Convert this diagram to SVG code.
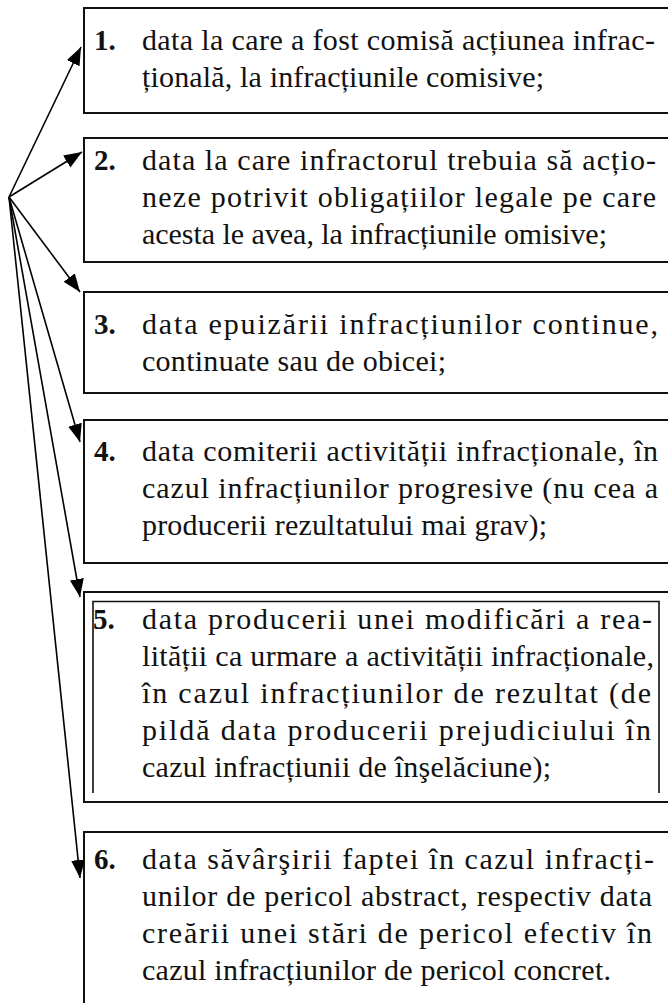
<svg xmlns="http://www.w3.org/2000/svg" width="668" height="1003" viewBox="0 0 668 1003">
<defs>
<style>
.box{fill:#fff;stroke:#111;stroke-width:2}
.inner{fill:none;stroke:#111;stroke-width:1.6}
.t{font-family:"Liberation Serif","DejaVu Serif",serif;font-size:30px;fill:#111}
.n{font-family:"Liberation Serif","DejaVu Serif",serif;font-size:29px;font-weight:bold;fill:#111}
.c{fill:none;stroke:#000;stroke-width:1.6}
</style>
<marker id="ah" markerUnits="userSpaceOnUse" markerWidth="20" markerHeight="16" refX="18" refY="7" orient="auto">
<path d="M0,0 L18,7 L0,14 z" fill="#000"/>
</marker>
</defs>
<rect width="668" height="1003" fill="#fff"/>

<g id="node1">
<rect class="box" x="84" y="8" width="600" height="105"/>
<text class="n" x="94" y="50">1.</text>
<text class="t" x="142" y="50" textLength="513" lengthAdjust="spacing">data la care a fost comisă acțiunea infrac-</text>
<text class="t" x="142" y="87" textLength="402" lengthAdjust="spacing">țională, la infracțiunile comisive;</text>
</g>

<g id="node2">
<rect class="box" x="84" y="138" width="600" height="124"/>
<text class="n" x="94" y="170">2.</text>
<text class="t" x="142" y="170" textLength="514" lengthAdjust="spacing">data la care infractorul trebuia să acțio-</text>
<text class="t" x="142" y="207" textLength="514" lengthAdjust="spacing">neze potrivit obligațiilor legale pe care</text>
<text class="t" x="142" y="244" textLength="465" lengthAdjust="spacing">acesta le avea, la infracțiunile omisive;</text>
</g>

<g id="node3">
<rect class="box" x="84" y="292" width="600" height="101"/>
<text class="n" x="94" y="334">3.</text>
<text class="t" x="142" y="334" textLength="516" lengthAdjust="spacing">data epuizării infracțiunilor continue,</text>
<text class="t" x="142" y="371" textLength="304" lengthAdjust="spacing">continuate sau de obicei;</text>
</g>

<g id="node4">
<rect class="box" x="84" y="420" width="600" height="143"/>
<text class="n" x="94" y="461">4.</text>
<text class="t" x="142" y="461" textLength="516" lengthAdjust="spacing">data comiterii activității infracționale, în</text>
<text class="t" x="142" y="498" textLength="516" lengthAdjust="spacing">cazul infracțiunilor progresive (nu cea a</text>
<text class="t" x="142" y="535" textLength="405" lengthAdjust="spacing">producerii rezultatului mai grav);</text>
</g>

<g id="node5">
<rect class="box" x="84" y="592" width="600" height="210"/>
<path class="inner" d="M93,793 V601.5 H659 V793"/>
<text class="n" x="93" y="629">5.</text>
<text class="t" x="142" y="629" textLength="510" lengthAdjust="spacing">data producerii unei modificări a rea-</text>
<text class="t" x="142" y="666" textLength="512" lengthAdjust="spacing">lității ca urmare a activității infracționale,</text>
<text class="t" x="142" y="703" textLength="509" lengthAdjust="spacing">în cazul infracțiunilor de rezultat (de</text>
<text class="t" x="142" y="740" textLength="509" lengthAdjust="spacing">pildă data producerii prejudiciului în</text>
<text class="t" x="142" y="777" textLength="409" lengthAdjust="spacing">cazul infracțiunii de înşelăciune);</text>
</g>

<g id="node6">
<rect class="box" x="84" y="832" width="600" height="200"/>
<text class="n" x="94" y="869">6.</text>
<text class="t" x="142" y="869" textLength="512" lengthAdjust="spacing">data săvârşirii faptei în cazul infracți-</text>
<text class="t" x="142" y="906" textLength="510" lengthAdjust="spacing">unilor de pericol abstract, respectiv data</text>
<text class="t" x="142" y="943" textLength="510" lengthAdjust="spacing">creării unei stări de pericol efectiv în</text>
<text class="t" x="142" y="980" textLength="469" lengthAdjust="spacing">cazul infracțiunilor de pericol concret.</text>
</g>

<g id="connectors">
<line class="c" x1="9" y1="197" x2="81" y2="47" marker-end="url(#ah)"/>
<line class="c" x1="9" y1="197" x2="82" y2="152" marker-end="url(#ah)"/>
<line class="c" x1="9" y1="197" x2="80" y2="292" marker-end="url(#ah)"/>
<line class="c" x1="9" y1="197" x2="80" y2="442" marker-end="url(#ah)"/>
<line class="c" x1="9" y1="197" x2="80" y2="597" marker-end="url(#ah)"/>
<line class="c" x1="9" y1="197" x2="80" y2="878" marker-end="url(#ah)"/>
</g>
</svg>
